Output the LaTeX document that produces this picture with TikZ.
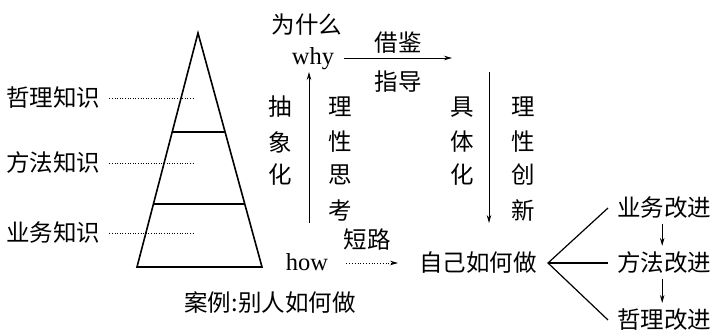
\documentclass[tikz,border=0pt]{standalone}
\usepackage{fontspec}
\newfontfamily\cjk{Noto Sans CJK SC}
\newfontfamily\lat{Liberation Serif}
\usetikzlibrary{arrows.meta,calc}
\begin{document}
\begin{tikzpicture}[x=1pt,y=-1pt,
  cn/.style={font=\cjk\fontsize{23.5}{26}\selectfont, inner sep=0pt},
  en/.style={font=\lat\fontsize{24.5}{26}\selectfont, inner sep=0pt},
  arr/.style={-{Stealth[length=8pt,width=4.5pt]}, line width=0.8pt},
  dots/.style={dotted, line width=0.6pt},
  thick line/.style={line width=1.6pt}]
\useasboundingbox (0,0) rectangle (714,336);
% pyramid
\coordinate (apex) at (198,33);
\coordinate (bl) at (137,267);
\coordinate (br) at (262,267);
\draw[thick line, line join=miter] (apex) -- (bl) -- (br) -- cycle;
\draw[line width=2pt] ($(apex)!0.423!(bl)$) -- ($(apex)!0.423!(br)$);
\draw[line width=2pt] ($(apex)!0.731!(bl)$) -- ($(apex)!0.731!(br)$);
% level labels
\node[cn, anchor=west] (l1) at (6,98) {哲理知识};
\node[cn, anchor=west] (l2) at (6,163) {方法知识};
\node[cn, anchor=west] (l3) at (6,233) {业务知识};
\coordinate (d1) at (193,98);
\coordinate (d2) at (193,163);
\coordinate (d3) at (193,233);
\draw[dots] ([xshift=9pt]l1.east) -- (d1);
\draw[dots] ([xshift=9pt]l2.east) -- (d2);
\draw[dots] ([xshift=9pt]l3.east) -- (d3);
\node[cn] (case) at (270,303) {案例:别人如何做};
% why / how
\node[cn] (wsh) at (307,25) {为什么};
\node[en, anchor=base] (why) at (313,65) {why};
\node[en, anchor=base] (how) at (307,271) {how};
\node[cn] (self) at (478,263) {自己如何做};
\coordinate (wend) at (452,58);
\draw[arr] ([xshift=10pt]why.east |- wend) -- (wend);
\node[cn] (jj) at (398,43) {借鉴};
\node[cn] (zd) at (398,82) {指导};
\coordinate (ub) at (309,223);
\coordinate (ut) at (309,72);
\draw[arr] (ub) -- (ut);
\coordinate (dt) at (489,72);
\coordinate (db) at (489,223);
\draw[arr] (dt) -- (db);
\coordinate (hend) at (398,263);
\draw[arr, dotted] ([xshift=18pt]how.east |- hend) -- (hend);
\node[cn] (dl) at (367,240) {短路};
% vertical labels
\foreach \c/\y [count=\i] in {抽/107,象/142,化/175}{
  \node[cn] (a\i) at (280,\y) {\c};}
\foreach \c/\y [count=\i] in {理/107,性/142,思/175,考/210}{
  \node[cn] (b\i) at (340,\y) {\c};}
\foreach \c/\y [count=\i] in {具/107,体/142,化/175}{
  \node[cn] (c\i) at (462,\y) {\c};}
\foreach \c/\y [count=\i] in {理/107,性/142,创/175,新/210}{
  \node[cn] (e\i) at (523,\y) {\c};}
% fork
\node[cn, anchor=west] (g1) at (617,208) {业务改进};
\node[cn, anchor=west] (g2) at (617,263) {方法改进};
\node[cn, anchor=west] (g3) at (617,320) {哲理改进};
\coordinate (fk) at (548,263);
\draw[line width=1.2pt] ([xshift=-9pt]g1.west) -- (fk) -- ([xshift=-9pt]g3.west);
\draw[line width=1.4pt] (fk) -- ([xshift=-9pt]g2.west);
\draw[arr] ([xshift=-2pt,yshift=-5pt]g1.south) -- ([xshift=-2pt,yshift=6pt]g2.north);
\draw[arr] ([xshift=-2pt,yshift=-5pt]g2.south) -- ([xshift=-2pt,yshift=6pt]g3.north);
\end{tikzpicture}
\end{document}
